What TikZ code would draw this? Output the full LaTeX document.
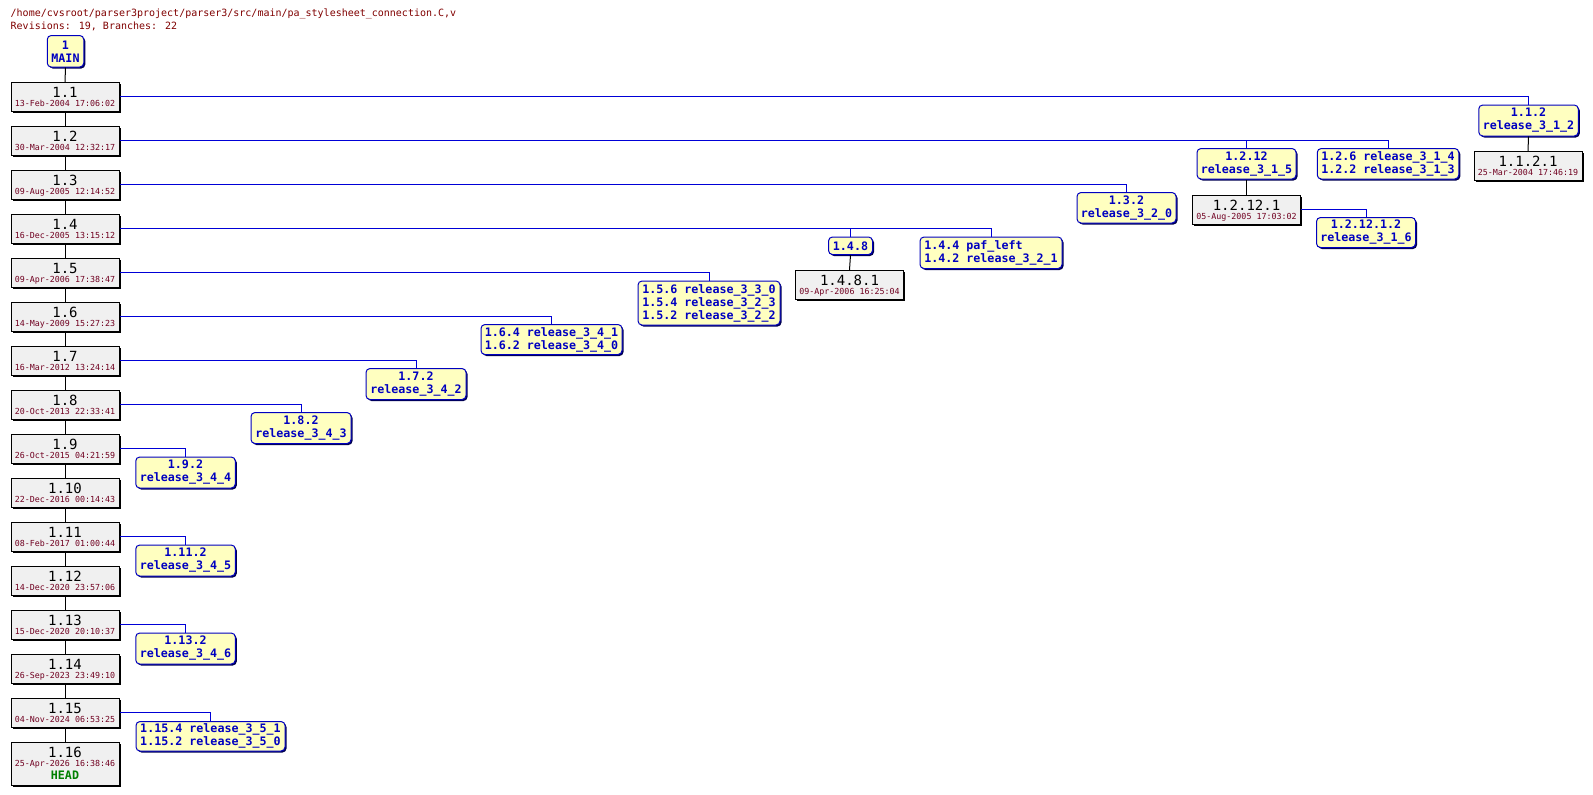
\documentclass[tikz,border=0pt]{standalone}
\usepackage{fontspec}
\newfontfamily\monof{DejaVu Sans Mono}
\usetikzlibrary{shadows}
\definecolor{hdrred}{RGB}{128,0,0}
\definecolor{datered}{RGB}{112,0,32}
\definecolor{tagblue}{RGB}{0,0,192}
\definecolor{lineblue}{RGB}{0,0,215}
\definecolor{tagfill}{RGB}{255,255,192}
\definecolor{revfill}{RGB}{240,240,240}
\definecolor{headgreen}{RGB}{0,128,0}
\definecolor{tagshadow}{RGB}{0,0,80}
\tikzset{
  revbox/.style={draw=black, line width=1pt, fill=revfill, minimum width=108, minimum height=28.5, inner sep=0pt,
    drop shadow={shadow xshift=1.5pt, shadow yshift=-1.5pt, fill=black, opacity=1}},
  tagbox/.style={draw=tagblue, line width=1pt, fill=tagfill, rounded corners=4pt, inner sep=0pt, text=tagblue,
    font=\monof\bfseries\fontsize{11.67}{13}\selectfont, align=center,
    drop shadow={shadow xshift=1.5pt, shadow yshift=-1.5pt, fill=tagshadow, opacity=1}},
  revnum/.style={inner sep=0pt, font=\monof\fontsize{14}{15}\selectfont},
  revdate/.style={inner sep=0pt, text=datered, font=\monof\fontsize{8.33}{9}\selectfont},
  headtxt/.style={inner sep=0pt, text=headgreen, font=\monof\bfseries\fontsize{11.67}{13}\selectfont},
  hdr/.style={inner sep=0pt, text=hdrred, font=\monof\fontsize{10}{12}\selectfont, anchor=base west},
  trunk/.style={draw=black, line width=1pt},
  bline/.style={draw=lineblue, line width=1pt},
}
\newcommand\mkrev[6][]{%
  \node[revbox,#1,anchor=north] (#2) at (#3,#4) {};
  \node[revnum,anchor=base] (#2n) at ([yshift=-15pt]#2.north) {#5};
  \node[revdate,anchor=base] (#2d) at ([yshift=-24.5pt]#2.north) {#6};}
\newcommand\mktag[6][]{%
  \node[tagbox,#1,anchor=north,minimum width=#5,minimum height=#6] (#2) at (#3,#4)}
\begin{document}
\begin{tikzpicture}[x=1pt,y=-1pt]
\fill[white] (0,0) rectangle (1593,795);
\useasboundingbox (0,0) rectangle (1593,795);

% header
\node[hdr] (h1) at (10.5,16.7) {/home/cvsroot/parser3project/parser3/src/main/pa\_stylesheet\_connection.C,v};
\node[hdr] (h2) at (10.5,29) {Revisions: 19, Branches: 22};

% MAIN
\mktag{main}{65.5}{35}{36.5}{31.5} {1\\MAIN};

% trunk revisions
\mkrev{r1}{65}{82}{1.1}{13-Feb-2004 17:06:02}
\mkrev{r2}{65}{126}{1.2}{30-Mar-2004 12:32:17}
\mkrev{r3}{65}{170}{1.3}{09-Aug-2005 12:14:52}
\mkrev{r4}{65}{214}{1.4}{16-Dec-2005 13:15:12}
\mkrev{r5}{65}{258}{1.5}{09-Apr-2006 17:38:47}
\mkrev{r6}{65}{302}{1.6}{14-May-2009 15:27:23}
\mkrev{r7}{65}{346}{1.7}{16-Mar-2012 13:24:14}
\mkrev{r8}{65}{390}{1.8}{20-Oct-2013 22:33:41}
\mkrev{r9}{65}{434}{1.9}{26-Oct-2015 04:21:59}
\mkrev{r10}{65}{478}{1.10}{22-Dec-2016 00:14:43}
\mkrev{r11}{65}{522}{1.11}{08-Feb-2017 01:00:44}
\mkrev{r12}{65}{566}{1.12}{14-Dec-2020 23:57:06}
\mkrev{r13}{65}{610}{1.13}{15-Dec-2020 20:10:37}
\mkrev{r14}{65}{654}{1.14}{26-Sep-2023 23:49:10}
\mkrev{r15}{65}{698}{1.15}{04-Nov-2024 06:53:25}
\mkrev[minimum height=42.5]{r16}{65}{742}{1.16}{25-Apr-2026 16:38:46}
\node[headtxt,anchor=base] (head) at ([yshift=-37pt]r16.north) {HEAD};

% trunk connectors
\draw[trunk] (main.south) -- (r1.north);
\foreach \a/\b in {1/2,2/3,3/4,4/5,5/6,6/7,7/8,8/9,9/10,10/11,11/12,12/13,13/14,14/15,15/16}
  \draw[trunk] (r\a.south) -- (r\b.north);

% branch tags
\mktag{b112}{1528.5}{104.5}{99.5}{31} {1.1.2\\release\_3\_1\_2};
\mktag{b1212}{1246.5}{148}{99}{30.5} {1.2.12\\release\_3\_1\_5};
\mktag[align=left]{b126}{1388}{148}{141.5}{30.5} {1.2.6 release\_3\_1\_4\\1.2.2 release\_3\_1\_3};
\mktag{b121212}{1366}{217}{99}{30} {1.2.12.1.2\\release\_3\_1\_6};
\mktag{b132}{1126.5}{192}{99}{30.5} {1.3.2\\release\_3\_2\_0};
\mktag{b148}{850.5}{236.5}{44}{17.5} {1.4.8};
\mktag[align=left]{b144}{991}{236.5}{142}{31.5} {1.4.4 paf\_left\\1.4.2 release\_3\_2\_1};
\mktag[align=left]{b156}{709}{280.5}{142}{44} {1.5.6 release\_3\_3\_0\\1.5.4 release\_3\_2\_3\\1.5.2 release\_3\_2\_2};
\mktag[align=left]{b164}{551.5}{324}{141}{30} {1.6.4 release\_3\_4\_1\\1.6.2 release\_3\_4\_0};
\mktag{b172}{416}{368}{100}{31} {1.7.2\\release\_3\_4\_2};
\mktag{b182}{301}{412}{100}{31} {1.8.2\\release\_3\_4\_3};
\mktag{b192}{185.5}{456.5}{99.5}{31} {1.9.2\\release\_3\_4\_4};
\mktag{b1112}{185.5}{544.5}{99.5}{31} {1.11.2\\release\_3\_4\_5};
\mktag{b1132}{185.5}{632.5}{99.5}{31} {1.13.2\\release\_3\_4\_6};
\mktag[align=left]{b1154}{210.5}{721}{149}{29.5} {1.15.4 release\_3\_5\_1\\1.15.2 release\_3\_5\_0};

% branch revisions
\mkrev[minimum width=108]{r1121}{1528}{151}{1.1.2.1}{25-Mar-2004 17:46:19}
\mkrev[minimum width=108]{r12121}{1246.5}{195}{1.2.12.1}{05-Aug-2005 17:03:02}
\mkrev[minimum width=108]{r1481}{849.5}{270}{1.4.8.1}{09-Apr-2006 16:25:04}

% branch-internal connectors
\draw[trunk] (b112.south) -- (r1121.north);
\draw[trunk] (b1212.south) -- (r12121.north);
\draw[trunk] (b148.south) -- (r1481.north);

% branch lines
\draw[bline] ([yshift=-14pt]r1.north east) -| (b112.north);
\draw[bline] ([yshift=-14pt]r2.north east) -| (b126.north);
\draw[bline] ([yshift=-14pt]r2.north east) -| (b1212.north);
\draw[bline] ([yshift=-14pt]r3.north east) -| (b132.north);
\draw[bline] ([yshift=-14pt]r4.north east) -| (b144.north);
\draw[bline] ([yshift=-14pt]r4.north east) -| (b148.north);
\draw[bline] ([yshift=-14pt]r5.north east) -| (b156.north);
\draw[bline] ([yshift=-14pt]r6.north east) -| (b164.north);
\draw[bline] ([yshift=-14pt]r7.north east) -| (b172.north);
\draw[bline] ([yshift=-14pt]r8.north east) -| (b182.north);
\draw[bline] ([yshift=-14pt]r9.north east) -| (b192.north);
\draw[bline] ([yshift=-14pt]r11.north east) -| (b1112.north);
\draw[bline] ([yshift=-14pt]r13.north east) -| (b1132.north);
\draw[bline] ([yshift=-14pt]r15.north east) -| (b1154.north);
\draw[bline] ([yshift=-14pt]r12121.north east) -| (b121212.north);
\end{tikzpicture}
\end{document}
